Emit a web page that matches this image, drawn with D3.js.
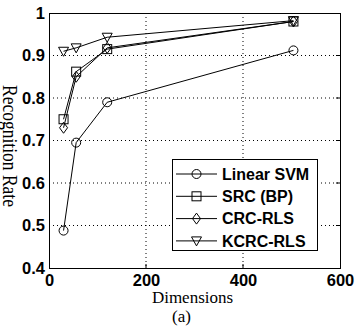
<!DOCTYPE html>
<html><head><meta charset="utf-8">
<script src="https://cdn.jsdelivr.net/npm/d3@7"></script>
<style>body{margin:0;background:#fff}svg{display:block}</style>
</head><body>
<script>
const dims = [30, 56, 120, 504];
const seriesNames = ["Linear SVM", "SRC (BP)", "CRC-RLS", "KCRC-RLS"];
const linearSVM = [0.488, 0.695, 0.790, 0.912];
const srcBP = [0.750, 0.862, 0.915, 0.980];
const crcRLS = [0.730, 0.850, 0.918, 0.980];
const kcrcRLS = [0.910, 0.918, 0.943, 0.982];
const xTicks = [0, 200, 400, 600];
const yTicks = [0.4, 0.5, 0.6, 0.7, 0.8, 0.9, 1];
const xLabel = "Dimensions";
const yLabel = "Recognition Rate";
const caption = "(a)";

const W = 355, H = 330;
const m = {l: 49, r: 340, t: 13, b: 268};
const svg = d3.select("body").append("svg").attr("width", W).attr("height", H);
const x = d3.scaleLinear().domain([0, 600]).range([m.l, m.r]);
const y = d3.scaleLinear().domain([0.4, 1]).range([m.b, m.t]);

// grid
const g = svg.append("g");
g.selectAll(".gx").data(xTicks.slice(1, -1)).enter().append("line")
  .attr("x1", d => x(d)).attr("x2", d => x(d)).attr("y1", m.t).attr("y2", m.b)
  .attr("stroke", "#000").attr("stroke-width", 1).attr("stroke-dasharray", "1,3");
g.selectAll(".gy").data(yTicks.slice(1, -1)).enter().append("line")
  .attr("y1", d => y(d)).attr("y2", d => y(d)).attr("x1", m.l).attr("x2", m.r)
  .attr("stroke", "#000").attr("stroke-width", 1).attr("stroke-dasharray", "1,3");

// axes
const xAxis = svg.append("g").attr("transform", `translate(0,${m.b})`)
  .call(d3.axisBottom(x).tickValues(xTicks).tickSize(0).tickPadding(6).tickFormat(d3.format("d")));
const yAxis = svg.append("g").attr("transform", `translate(${m.l},0)`)
  .call(d3.axisLeft(y).tickValues(yTicks).tickSize(0).tickPadding(4).tickFormat(d => d === 1 ? "1" : d3.format(".1f")(d)));
[xAxis, yAxis].forEach(a => {
  a.select(".domain").remove();
  a.selectAll("text").attr("font-family", "Liberation Sans, Arial, sans-serif")
    .attr("font-weight", "bold").attr("font-size", 16.5).attr("fill", "#000");
});
// ticks inward
svg.append("g").selectAll("line").data(xTicks.slice(1, -1)).enter().append("line")
  .attr("x1", d => x(d)).attr("x2", d => x(d)).attr("y1", m.b).attr("y2", m.b - 4).attr("stroke", "#000");
svg.append("g").selectAll("line").data(yTicks.slice(1, -1)).enter().append("line")
  .attr("y1", d => y(d)).attr("y2", d => y(d)).attr("x1", m.r).attr("x2", m.r - 4).attr("stroke", "#000");

svg.append("rect").attr("x", m.l + 0.5).attr("y", m.t + 0.5)
  .attr("width", m.r - m.l).attr("height", m.b - m.t)
  .attr("fill", "none").attr("stroke", "#000").attr("stroke-width", 1);

// markers
function marker(sel, type, cx, cy) {
  const s = 4.5;
  if (type === 0) sel.append("circle").attr("cx", cx).attr("cy", cy).attr("r", s);
  else if (type === 1) sel.append("rect").attr("x", cx - s).attr("y", cy - s).attr("width", 2 * s).attr("height", 2 * s);
  else if (type === 2) sel.append("path").attr("d", `M${cx},${cy - 5.5}L${cx + 4},${cy}L${cx},${cy + 5.5}L${cx - 4},${cy}Z`);
  else sel.append("path").attr("d", `M${cx - 5},${cy - 4}L${cx + 5},${cy - 4}L${cx},${cy + 5}Z`);
}

const all = [linearSVM, srcBP, crcRLS, kcrcRLS];
const line = d3.line().x((d, i) => x(dims[i])).y(d => y(d));
all.forEach((vals, k) => {
  const sg = svg.append("g").attr("fill", "none").attr("stroke", "#000").attr("stroke-width", 1);
  sg.append("path").attr("d", line(vals));
  vals.forEach((v, i) => marker(sg, k, x(dims[i]), y(v)));
});

// legend
const lg = svg.append("g");
lg.append("rect").attr("x", 172.5).attr("y", 159.5).attr("width", 145).attr("height", 91)
  .attr("fill", "#fff").attr("stroke", "#000");
seriesNames.forEach((name, k) => {
  const ly = 174 + k * 22.3;
  const eg = lg.append("g").attr("fill", "none").attr("stroke", "#000");
  eg.append("line").attr("x1", 176).attr("x2", 217).attr("y1", ly).attr("y2", ly);
  marker(eg, k, 196.5, ly);
  lg.append("text").attr("x", 222).attr("y", ly).attr("dy", "0.35em")
    .attr("font-family", "Liberation Sans, Arial, sans-serif").attr("font-weight", "bold")
    .attr("font-size", 16).text(name);
});

// labels
svg.append("text").attr("x", 192.5).attr("y", 303).attr("text-anchor", "middle")
  .attr("font-family", "Liberation Serif, Times New Roman, serif").attr("font-size", 17).text(xLabel);
svg.append("text").attr("x", 181.5).attr("y", 322).attr("text-anchor", "middle")
  .attr("font-family", "Liberation Serif, Times New Roman, serif").attr("font-size", 17).text(caption);
svg.append("text").attr("transform", `translate(3,146) rotate(90) scale(1,1.2)`).attr("text-anchor", "middle")
  .attr("font-family", "Liberation Serif, Times New Roman, serif").attr("font-size", 17.5).text(yLabel);
</script>
</body></html>
